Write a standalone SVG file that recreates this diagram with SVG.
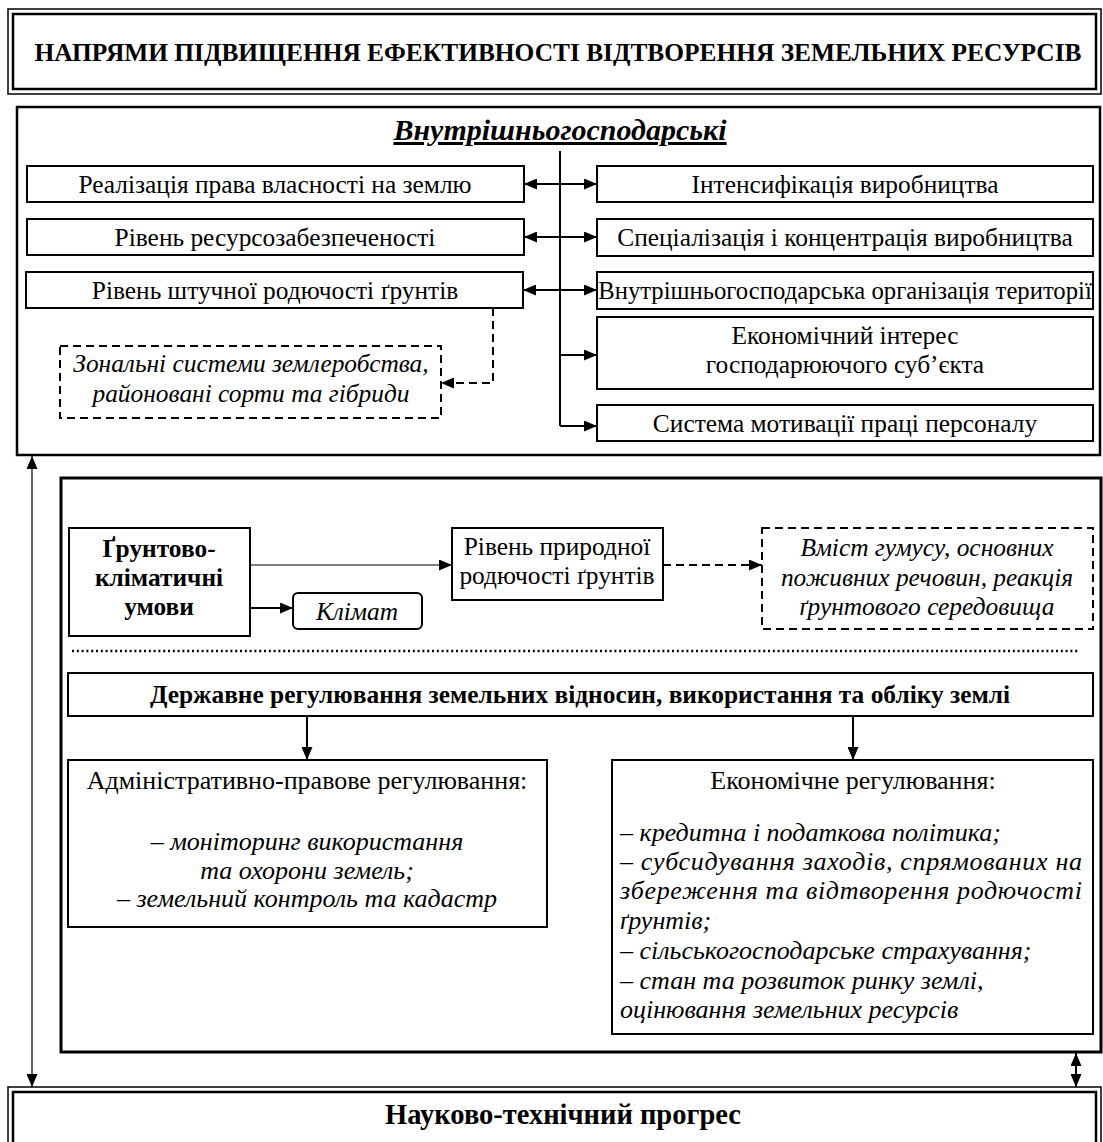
<svg xmlns="http://www.w3.org/2000/svg" width="1103" height="1142" viewBox="0 0 1103 1142">
<defs>
<style>
text{font-family:"Liberation Serif","Times New Roman",serif;fill:#000}
.t{font-size:25.4px;text-anchor:middle}
.lo{font-size:26px}
.b{font-weight:bold}
.i{font-style:italic}
.box{fill:#fff;stroke:#000;stroke-width:2}
.dbox{fill:#fff;stroke:#000;stroke-width:2;stroke-dasharray:8 5}
.c{fill:none;stroke:#000;stroke-width:2}
.cd{fill:none;stroke:#000;stroke-width:2;stroke-dasharray:8 5}
.thin{fill:none;stroke:#000;stroke-width:1.2}
</style>
<marker id="ah" viewBox="0 0 13 11" refX="13" refY="5.5" markerWidth="13" markerHeight="11" markerUnits="userSpaceOnUse" orient="auto-start-reverse"><path d="M0,0 L13,5.5 L0,11 Z" fill="#000"/></marker>
</defs>
<rect width="1103" height="1142" fill="#fff"/>

<g id="title">
<rect x="8" y="9" width="1093" height="85" fill="#fff" stroke="#000" stroke-width="1.5"/>
<rect x="13" y="14" width="1083" height="75" fill="none" stroke="#000" stroke-width="2.5"/>
<text class="t b" x="558" y="61">НАПРЯМИ ПІДВИЩЕННЯ ЕФЕКТИВНОСТІ ВІДТВОРЕННЯ ЗЕМЕЛЬНИХ РЕСУРСІВ</text>
</g>

<g id="internal">
<rect x="17" y="107" width="1083" height="348" fill="#fff" stroke="#000" stroke-width="2.5"/>
<text class="t b i" x="560" y="140" style="font-size:30px" text-decoration="underline">Внутрішньогосподарські</text>
</g>

<g id="n-realiz"><rect class="box" x="27" y="166" width="497" height="36"/><text class="t" x="275" y="193">Реалізація права власності на землю</text></g>
<g id="n-resurs"><rect class="box" x="27" y="219" width="497" height="36"/><text class="t" x="275" y="246">Рівень ресурсозабезпеченості</text></g>
<g id="n-shtuch"><rect class="box" x="26" y="272" width="497" height="36"/><text class="t" x="275" y="299">Рівень штучної родючості ґрунтів</text></g>
<g id="n-zonal"><rect class="dbox" x="60" y="346" width="381" height="72"/><text class="t i" x="251" y="372">Зональні системи землеробства,</text><text class="t i" x="251" y="402">районовані сорти та гібриди</text></g>

<g id="n-intens"><rect class="box" x="597" y="166" width="496" height="36"/><text class="t" x="845" y="193">Інтенсифікація виробництва</text></g>
<g id="n-spec"><rect class="box" x="597" y="219" width="496" height="37"/><text class="t" x="845" y="246">Спеціалізація і концентрація виробництва</text></g>
<g id="n-terr"><rect class="box" x="597" y="272" width="496" height="37"/><text class="t" x="845" y="299" style="font-size:24.7px">Внутрішньогосподарська організація території</text></g>
<g id="n-interes"><rect class="box" x="597" y="317" width="496" height="72"/><text class="t" x="845" y="344">Економічний інтерес</text><text class="t" x="845" y="373">господарюючого суб’єкта</text></g>
<g id="n-motiv"><rect class="box" x="597" y="405" width="496" height="36"/><text class="t" x="845" y="432">Система мотивації праці персоналу</text></g>

<g id="external">
<rect x="61" y="478" width="1040" height="574" fill="#fff" stroke="#000" stroke-width="3"/>
<line x1="72" y1="651" x2="1078" y2="651" stroke="#000" stroke-width="2.5" stroke-dasharray="2 2.8"/>
</g>

<g id="n-grunt"><rect class="box" x="69" y="528" width="181" height="108"/><text class="t b" x="159" y="557">Ґрунтово-</text><text class="t b" x="159" y="586">кліматичні</text><text class="t b" x="159" y="615">умови</text></g>
<g id="n-klimat"><rect class="box" x="293" y="593" width="129" height="36" rx="5"/><text class="t i" x="357" y="620">Клімат</text></g>
<g id="n-pryrod"><rect class="box" x="452" y="528" width="211" height="72"/><text class="t" x="557" y="555">Рівень природної</text><text class="t" x="557" y="584">родючості ґрунтів</text></g>
<g id="n-gumus"><rect class="dbox" x="762" y="528" width="331" height="101"/><text class="t i" x="927" y="556">Вміст гумусу, основних</text><text class="t i" x="927" y="586">поживних речовин, реакція</text><text class="t i" x="927" y="615">ґрунтового середовища</text></g>

<g id="n-derzh"><rect class="box" x="68" y="673" width="1025" height="43"/><text class="t b" x="580" y="703">Державне регулювання земельних відносин, використання та обліку землі</text></g>

<g id="n-admin"><rect class="box" x="68" y="760" width="479" height="167"/>
<text class="t lo" x="307" y="789">Адміністративно-правове регулювання:</text>
<text class="t lo i" x="307" y="850">– моніторинг використання</text>
<text class="t lo i" x="307" y="879">та охорони земель;</text>
<text class="t lo i" x="307" y="907">– земельний контроль та кадастр</text></g>

<g id="n-econ"><rect class="box" x="612" y="760" width="481" height="274"/>
<text class="t lo" x="853" y="789">Економічне регулювання:</text>
<g class="i lo">
<text x="620" y="841">– кредитна і податкова політика;</text>
<text x="620" y="870" textLength="462" lengthAdjust="spacing">– субсидування заходів, спрямованих на</text>
<text x="620" y="899" textLength="462" lengthAdjust="spacing">збереження та відтворення родючості</text>
<text x="620" y="929">ґрунтів;</text>
<text x="620" y="959">– сільськогосподарське страхування;</text>
<text x="620" y="989">– стан та розвиток ринку землі,</text>
<text x="620" y="1018">оцінювання земельних ресурсів</text>
</g></g>

<g id="n-ntp">
<rect x="8" y="1087" width="1093" height="70" fill="#fff" stroke="#000" stroke-width="1.5"/>
<rect x="13" y="1092" width="1083" height="60" fill="none" stroke="#000" stroke-width="2.5"/>
<text class="t b" x="563" y="1124" style="font-size:28.5px">Науково-технічний прогрес</text>
</g>

<g id="connectors">
<line class="c" x1="560" y1="151" x2="560" y2="426"/>
<line class="c" x1="524" y1="184" x2="597" y2="184" marker-start="url(#ah)" marker-end="url(#ah)"/>
<line class="c" x1="524" y1="237" x2="597" y2="237" marker-start="url(#ah)" marker-end="url(#ah)"/>
<line class="c" x1="523" y1="290" x2="597" y2="290" marker-start="url(#ah)" marker-end="url(#ah)"/>
<line class="c" x1="560" y1="355" x2="597" y2="355" marker-end="url(#ah)"/>
<line class="c" x1="560" y1="426" x2="597" y2="426" marker-end="url(#ah)"/>
<path class="cd" d="M493,308 V383 H441" marker-end="url(#ah)"/>
<line class="thin" x1="250" y1="565" x2="452" y2="565" marker-end="url(#ah)"/>
<line class="c" x1="250" y1="608" x2="293" y2="608" marker-end="url(#ah)"/>
<line class="cd" x1="663" y1="565" x2="762" y2="565" marker-end="url(#ah)"/>
<line class="c" x1="307" y1="716" x2="307" y2="760" marker-end="url(#ah)"/>
<line class="c" x1="853" y1="716" x2="853" y2="760" marker-end="url(#ah)"/>
<line class="thin" x1="32" y1="456" x2="32" y2="1087" marker-start="url(#ah)" marker-end="url(#ah)"/>
<line class="c" x1="1076" y1="1053" x2="1076" y2="1087" marker-start="url(#ah)" marker-end="url(#ah)"/>
</g>
</svg>
